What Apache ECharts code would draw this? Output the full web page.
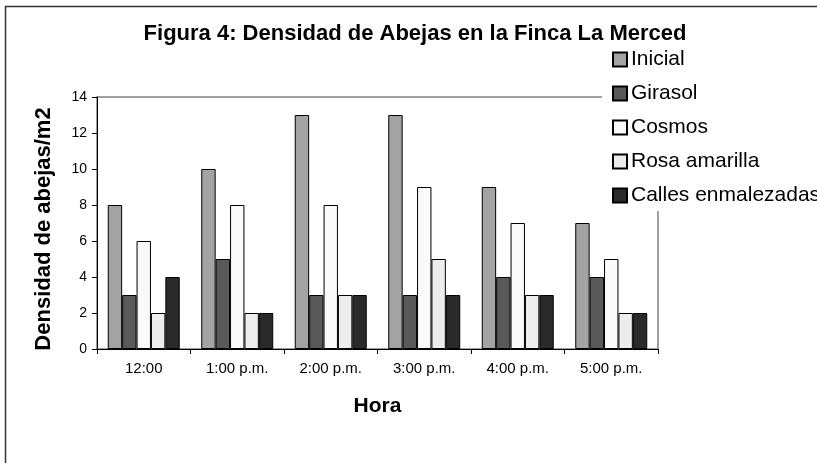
<!DOCTYPE html>
<html><head><meta charset="utf-8">
<script src="https://cdn.jsdelivr.net/npm/echarts@6/dist/echarts.min.js"></script>
<style>html,body{margin:0;padding:0;background:#fff}#c{width:817px;height:463px}</style>
</head><body><div id="c"></div>
<script>
const categories = ['12:00', '1:00 p.m.', '2:00 p.m.', '3:00 p.m.', '4:00 p.m.', '5:00 p.m.'];
const inicial = [8, 10, 13, 13, 9, 7];
const girasol = [3, 5, 3, 3, 4, 4];
const cosmos = [6, 8, 8, 9, 7, 5];
const rosaAmarilla = [2, 2, 3, 5, 3, 2];
const calles = [4, 2, 3, 3, 3, 2];
const seriesNames = ['Inicial', 'Girasol', 'Cosmos', 'Rosa amarilla', 'Calles enmalezadas'];
const seriesColors = ['#a3a3a3', '#595959', '#fafafa', '#ededed', '#2a2a2a'];
const seriesData = [inicial, girasol, cosmos, rosaAmarilla, calles];
const yTicks = { min: 0, max: 14, interval: 2 };

const FONT = 'Arial, "Liberation Sans", sans-serif';
const chart = echarts.init(document.getElementById('c'));
chart.setOption({
  animation: false,
  backgroundColor: '#fff',
  textStyle: { fontFamily: FONT },
  title: {
    text: 'Figura 4: Densidad de Abejas en la Finca La Merced',
    left: 415, top: 23, textAlign: 'center', padding: 0,
    textStyle: { fontFamily: FONT, fontSize: 22, fontWeight: 'bold', color: '#000' }
  },
  graphic: [{
    type: 'rect', silent: true, z: -1,
    shape: { x: 5.5, y: 6.5, width: 900, height: 600 },
    style: { fill: 'none', stroke: '#333', lineWidth: 1.5 }
  }],
  legend: {
    orient: 'vertical', left: 602, top: 46,
    padding: [3, 10, 5, 10],
    backgroundColor: '#fff',
    itemWidth: 14, itemHeight: 14, itemGap: 13,
    icon: 'rect',
    textStyle: { fontFamily: FONT, fontSize: 21, color: '#000', padding: [0, 0, 0, -1] },
    data: seriesNames
  },
  grid: {
    left: 97, right: 159, top: 97, bottom: 114,
    show: true, borderColor: '#808080', borderWidth: 1.5, backgroundColor: 'transparent'
  },
  xAxis: {
    type: 'category', data: categories,
    name: 'Hora', nameLocation: 'middle', nameGap: 47,
    nameTextStyle: { fontFamily: FONT, fontSize: 21, fontWeight: 'bold', color: '#000' },
    axisLine: { lineStyle: { color: '#000', width: 1 } },
    axisTick: { show: true, length: 5, lineStyle: { color: '#000' } },
    axisLabel: { margin: 12, fontFamily: FONT, fontSize: 15, color: '#000' }
  },
  yAxis: {
    type: 'value', min: yTicks.min, max: yTicks.max, interval: yTicks.interval,
    name: 'Densidad de abejas/m2', nameLocation: 'middle', nameGap: 42,
    nameTextStyle: { fontFamily: FONT, fontSize: 22, fontWeight: 'bold', color: '#000', padding: [0, 12, 0, 0] },
    splitLine: { show: false },
    axisLine: { show: true, lineStyle: { color: '#000', width: 1 } },
    axisTick: { show: true, length: 5, lineStyle: { color: '#000' } },
    axisLabel: { margin: 10, fontFamily: FONT, fontSize: 14, color: '#000' }
  },
  series: seriesNames.map((n, i) => ({
    name: n, type: 'bar', data: seriesData[i],
    barGap: '0%', barCategoryGap: '23%',
    itemStyle: { color: seriesColors[i], borderColor: '#000', borderWidth: 1 }
  }))
});
</script></body></html>
